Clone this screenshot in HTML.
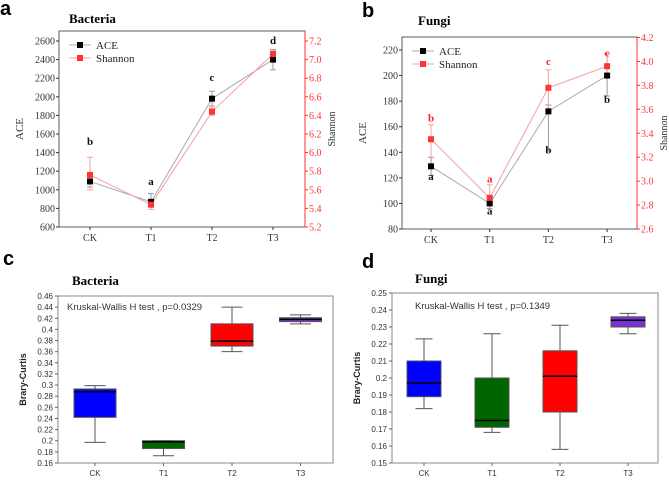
<!DOCTYPE html>
<html><head><meta charset="utf-8"><style>
body{margin:0;background:#fff;width:669px;height:480px;overflow:hidden}
svg{display:block}
.serif{font-family:"Liberation Serif",serif}
.sans{font-family:"Liberation Sans",sans-serif}
</style></head><body>
<svg id="chart" width="669" height="480" xmlns="http://www.w3.org/2000/svg">
<text x="0" y="15" class="sans" font-size="20" font-weight="bold">a</text>
<text x="69" y="23" class="serif" font-size="13" font-weight="bold">Bacteria</text>
<text x="362" y="17" class="sans" font-size="20" font-weight="bold">b</text>
<text x="418" y="25" class="serif" font-size="13" font-weight="bold">Fungi</text>
<text x="3" y="265" class="sans" font-size="20" font-weight="bold">c</text>
<text x="72" y="285" class="serif" font-size="13" font-weight="bold">Bacteria</text>
<text x="362" y="268" class="sans" font-size="20" font-weight="bold">d</text>
<text x="415" y="283" class="serif" font-size="13" font-weight="bold">Fungi</text>
</svg>
<script>
const cats=["CK","T1","T2","T3"];
// panel a
const aAce=[1090,870,1980,2400];
const aAceLo=[1030,820,1900,2290];
const aAceHi=[1160,960,2060,2510];
const aSh=[5.76,5.44,6.44,7.06];
const aShLo=[5.6,5.39,6.40,7.0];
const aShHi=[5.95,5.5,6.48,7.1];
const aLetters=["b","a","c","d"];
const aLetterVals=[1480,1050,2170,2570];
const aLeftTicks=[600,800,1000,1200,1400,1600,1800,2000,2200,2400,2600];
const aRightTicks=[5.2,5.4,5.6,5.8,6.0,6.2,6.4,6.6,6.8,7.0,7.2];
// panel b
const bAce=[129,100,172,200];
const bAceLo=[122,96,141,184];
const bAceHi=[136,104,177,217];
const bSh=[3.35,2.86,3.78,3.96];
const bShLo=[3.2,2.82,3.6,3.9];
const bShHi=[3.47,2.97,3.93,4.06];
const bBlackLetters=["a","a","b","b"];
const bBlackVals=[118.5,91.5,139,178.5];
const bRedLetters=["b","a","c","c"];
const bRedVals=[3.5,2.99,3.97,4.04];
const bLeftTicks=[80,100,120,140,160,180,200,220];
const bRightTicks=[2.6,2.8,3.0,3.2,3.4,3.6,3.8,4.0,4.2];
// panel c
const cMin=[0.197,0.173,0.36,0.41];
const cQ1=[0.242,0.186,0.37,0.414];
const cMed=[0.288,0.198,0.379,0.418];
const cQ3=[0.293,0.2,0.41,0.421];
const cMax=[0.299,0.2,0.44,0.426];
const cTicks=[0.16,0.18,0.2,0.22,0.24,0.26,0.28,0.3,0.32,0.34,0.36,0.38,0.4,0.42,0.44,0.46];
const cTickLabels=["0.16","0.18","0.2","0.22","0.24","0.26","0.28","0.3","0.32","0.34","0.36","0.38","0.4","0.42","0.44","0.46"];
// panel d
const dMin=[0.182,0.168,0.158,0.226];
const dQ1=[0.189,0.171,0.18,0.23];
const dMed=[0.197,0.175,0.201,0.234];
const dQ3=[0.21,0.2,0.216,0.236];
const dMax=[0.223,0.226,0.231,0.238];
const dTicks=[0.15,0.16,0.17,0.18,0.19,0.2,0.21,0.22,0.23,0.24,0.25];
const dTickLabels=["0.15","0.16","0.17","0.18","0.19","0.2","0.21","0.22","0.23","0.24","0.25"];
const boxColors=["#0000ff","#006400","#ff0000","#7b2fd6"];

const svg=document.getElementById('chart');
const NS="http://www.w3.org/2000/svg";
function el(tag,attrs,txt){const e=document.createElementNS(NS,tag);for(const k in attrs)e.setAttribute(k,attrs[k]);if(txt!==undefined)e.textContent=txt;svg.appendChild(e);return e;}
function lin(d0,d1,r0,r1){return v=>r0+(v-d0)*(r1-r0)/(d1-d0);}

function linePanel(o){
  const {x0,x1,yTop,yBot,catX,yL,yR,leftTicks,rightTicks,ace,aceLo,aceHi,sh,shLo,shHi,p,lfmt,rfmt}=o;
  let e=el('rect',{x:x0,y:yTop,width:x1-x0,height:yBot-yTop,fill:'none',stroke:'#333','stroke-width':0.8});
  
  el('line',{x1:x1,y1:yTop,x2:x1,y2:yBot,stroke:'#ff3333','stroke-width':1});
  leftTicks.forEach(t=>{const y=yL(t);el('line',{x1:x0-3,y1:y,x2:x0,y2:y,stroke:'#333'});
    e=el('text',{x:x0-4,y:y+3.5,'text-anchor':'end','font-size':10,class:'serif',fill:'#333'},lfmt(t));
    });
  rightTicks.forEach(t=>{const y=yR(t);el('line',{x1:x1,y1:y,x2:x1+3,y2:y,stroke:'#ff3333'});
    e=el('text',{x:x1+4,y:y+3.5,'font-size':10,class:'serif',fill:'#ff3333'},rfmt(t));
    });
  cats.forEach((c,i)=>{const x=catX(i);el('line',{x1:x,y1:yBot,x2:x,y2:yBot+3,stroke:'#333'});
    e=el('text',{x:x,y:yBot+14,'text-anchor':'middle','font-size':10,class:'serif',fill:'#333'},c);
    });
  // lines
  e=el('polyline',{points:ace.map((v,i)=>catX(i)+','+yL(v)).join(' '),fill:'none',stroke:'#aaa','stroke-width':1});
  
  e=el('polyline',{points:sh.map((v,i)=>catX(i)+','+yR(v)).join(' '),fill:'none',stroke:'#f4a0a0','stroke-width':1});
  
  ace.forEach((v,i)=>{const x=catX(i);
    el('line',{x1:x,y1:yL(aceLo[i]),x2:x,y2:yL(aceHi[i]),stroke:'#999'});
    el('line',{x1:x-3,y1:yL(aceLo[i]),x2:x+3,y2:yL(aceLo[i]),stroke:'#999'});
    el('line',{x1:x-3,y1:yL(aceHi[i]),x2:x+3,y2:yL(aceHi[i]),stroke:'#999'});});
  sh.forEach((v,i)=>{const x=catX(i);
    el('line',{x1:x,y1:yR(shLo[i]),x2:x,y2:yR(shHi[i]),stroke:'#f4a0a0'});
    el('line',{x1:x-3,y1:yR(shLo[i]),x2:x+3,y2:yR(shLo[i]),stroke:'#f4a0a0'});
    el('line',{x1:x-3,y1:yR(shHi[i]),x2:x+3,y2:yR(shHi[i]),stroke:'#f4a0a0'});});
  ace.forEach((v,i)=>{e=el('rect',{x:catX(i)-3,y:yL(v)-3,width:6,height:6,fill:'#000'});
    });
  sh.forEach((v,i)=>{e=el('rect',{x:catX(i)-3,y:yR(v)-3,width:6,height:6,fill:'#ff3333'});
    });
  // legend
  const lx=x0+10,ly=yTop+14;
  el('line',{x1:lx,y1:ly,x2:lx+22,y2:ly,stroke:'#aaa'});el('rect',{x:lx+8,y:ly-3,width:6,height:6,fill:'#000'});
  e=el('text',{x:lx+27,y:ly+4,'font-size':11,class:'serif',fill:'#222'},'ACE');
  
  el('line',{x1:lx,y1:ly+13,x2:lx+22,y2:ly+13,stroke:'#f4a0a0'});el('rect',{x:lx+8,y:ly+10,width:6,height:6,fill:'#ff3333'});
  e=el('text',{x:lx+27,y:ly+17,'font-size':11,class:'serif',fill:'#222'},'Shannon');
  
  // axis titles
  const my=(yTop+yBot)/2;
  e=el('text',{x:x0-36,y:my,'font-size':11,class:'serif',fill:'#333','text-anchor':'middle',transform:`rotate(-90 ${x0-36} ${my})`},'ACE');
  
  e=el('text',{x:x1+30,y:my,'font-size':10,class:'serif',fill:'#333','text-anchor':'middle',transform:`rotate(-90 ${x1+30} ${my})`},'Shannon');
  
}

// panel a
{const yL=lin(600,2600,227,41),yR=lin(5.2,7.2,227,41),catX=i=>90+i*61;
linePanel({x0:59,x1:305,yTop:31,yBot:227,catX,yL,yR,leftTicks:aLeftTicks,rightTicks:aRightTicks,ace:aAce,aceLo:aAceLo,aceHi:aAceHi,sh:aSh,shLo:aShLo,shHi:aShHi,p:'a',lfmt:t=>String(t),rfmt:t=>t.toFixed(1)});
aLetters.forEach((l,i)=>{const e=el('text',{x:catX(i),y:yL(aLetterVals[i]),'text-anchor':'middle','font-size':11,'font-weight':'bold',class:'serif',fill:'#111'},l);
 });}
// panel b
{const yL=lin(80,220,229,50),yR=lin(2.6,4.2,229,37.5),catX=i=>431+i*58.7;
linePanel({x0:402,x1:637,yTop:37,yBot:229,catX,yL,yR,leftTicks:bLeftTicks,rightTicks:bRightTicks,ace:bAce,aceLo:bAceLo,aceHi:bAceHi,sh:bSh,shLo:bShLo,shHi:bShHi,p:'b',lfmt:t=>String(t),rfmt:t=>t.toFixed(1)});
bBlackLetters.forEach((l,i)=>{const e=el('text',{x:catX(i),y:yL(bBlackVals[i]),'text-anchor':'middle','font-size':11,'font-weight':'bold',class:'serif',fill:'#111'},l);
 });
bRedLetters.forEach((l,i)=>{const e=el('text',{x:catX(i),y:yR(bRedVals[i]),'text-anchor':'middle','font-size':11,'font-weight':'bold',class:'serif',fill:'#ff2222'},l);
 });}

function boxPanel(o){
  const {x0,x1,yTop,yBot,y,catX,bw,ticks,labels,mn,q1,md,q3,mx,p,text,tx,ty}=o;
  let e=el('rect',{x:x0,y:yTop,width:x1-x0,height:yBot-yTop,fill:'none',stroke:'#888','stroke-width':1});
  
  ticks.forEach((t,i)=>{const yy=y(t);el('line',{x1:x0-3,y1:yy,x2:x0,y2:yy,stroke:'#666'});
    e=el('text',{x:x0-5,y:yy+3,'text-anchor':'end','font-size':8,class:'sans',fill:'#333'},labels[i]);
    });
  cats.forEach((c,i)=>{const x=catX(i);el('line',{x1:x,y1:yBot,x2:x,y2:yBot+3,stroke:'#666'});
    e=el('text',{x:x,y:yBot+13,'text-anchor':'middle','font-size':8,class:'sans',fill:'#333'},c);
    });
  cats.forEach((c,i)=>{const x=catX(i);
    el('line',{x1:x,y1:y(mn[i]),x2:x,y2:y(mx[i]),stroke:'#555','stroke-width':1});
    el('line',{x1:x-bw/4,y1:y(mn[i]),x2:x+bw/4,y2:y(mn[i]),stroke:'#555'});
    el('line',{x1:x-bw/4,y1:y(mx[i]),x2:x+bw/4,y2:y(mx[i]),stroke:'#555'});
    e=el('rect',{x:x-bw/2,y:y(q3[i]),width:bw,height:y(q1[i])-y(q3[i]),fill:boxColors[i],stroke:'#555','stroke-width':1});
    
    el('line',{x1:x-bw/2,y1:y(md[i]),x2:x+bw/2,y2:y(md[i]),stroke:'#000','stroke-width':1.5});});
  const my=(yTop+yBot)/2;
  e=el('text',{x:x0-32,y:my,'font-size':9,'font-weight':'bold',class:'sans',fill:'#222','text-anchor':'middle',transform:`rotate(-90 ${x0-32} ${my})`},'Brary-Curtis');
  
  e=el('text',{x:tx,y:ty,'font-size':9.5,class:'sans',fill:'#333'},text);
  
}
boxPanel({x0:58,x1:333,yTop:296,yBot:463,y:lin(0.16,0.46,463,296),catX:i=>95+i*68.5,bw:42,ticks:cTicks,labels:cTickLabels,mn:cMin,q1:cQ1,md:cMed,q3:cQ3,mx:cMax,p:'c',text:'Kruskal-Wallis H test , p=0.0329',tx:67,ty:310});
boxPanel({x0:392,x1:658,yTop:293,yBot:463,y:lin(0.15,0.25,463,293),catX:i=>424+i*68,bw:34,ticks:dTicks,labels:dTickLabels,mn:dMin,q1:dQ1,md:dMed,q3:dQ3,mx:dMax,p:'d',text:'Kruskal-Wallis H test , p=0.1349',tx:415,ty:309});
</script>
</body></html>
